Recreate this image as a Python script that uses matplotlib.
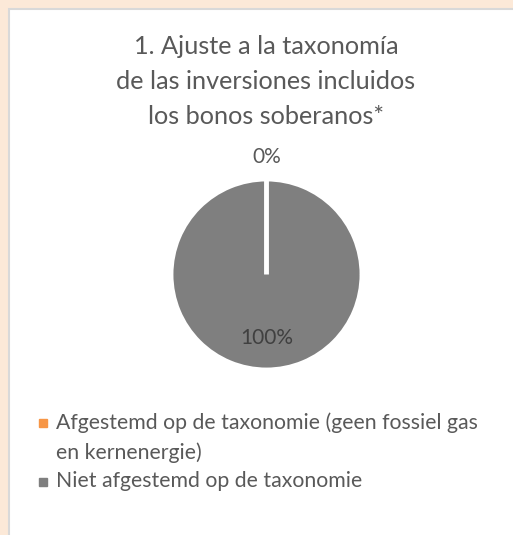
import matplotlib
matplotlib.use("Agg")
import matplotlib.pyplot as plt
from matplotlib.patches import Rectangle
from matplotlib.lines import Line2D
import numpy as np

title = "1. Ajuste a la taxonomía\nde las inversiones incluidos\nlos bonos soberanos*"
categories = ["Afgestemd op de taxonomie (geen fossiel gas\nen kernenergie)",
              "Niet afgestemd op de taxonomie"]
values = [0, 100]
colors = ["#F79646", "#7F7F7F"]
pct_labels = ["0%", "100%"]

W, H = 513, 535
fig = plt.figure(figsize=(W / 100, H / 100), dpi=100)
fig.patch.set_facecolor("#FCE9D8")
plt.rcParams['font.family'] = ['Lato', 'DejaVu Sans']

# white panel
fig.patches.append(Rectangle((9 / W, -0.01), 1 - 9 / W + 0.01, 1 - 9 / H + 0.01,
                             transform=fig.transFigure, facecolor="white",
                             edgecolor="#D9D9D9", linewidth=1.5, zorder=-5))

txtc = "#595959"
fig.text(266 / W, 1 - 35 / H, title, ha="center", va="top", fontsize=18.2,
         color=txtc, linespacing=1.63)

r_px = 95.5
cx, cy = 266.5, 274.5
ax = fig.add_axes([(cx - r_px) / W, 1 - (cy + r_px) / H, 2 * r_px / W, 2 * r_px / H])
ax.set_zorder(2)
wedges, _ = ax.pie(values, colors=colors, startangle=90, counterclock=False,
                   radius=1.0, wedgeprops=dict(edgecolor="white", linewidth=3.5),
                   normalize=True)
# the empty slice's white border is drawn on top of the full slice
wedges[0].set_zorder(5)
ax.set_xlim(-1, 1)
ax.set_ylim(-1, 1)
ax.set_aspect("auto")
ax.axis("off")

dists = [1.23, 0.66]
for w, lab, d in zip(wedges, pct_labels, dists):
    ang = np.deg2rad((w.theta1 + w.theta2) / 2)
    ax.text(d * np.cos(ang), d * np.sin(ang), lab, ha="center", va="center",
            fontsize=15, color=txtc if lab != "100%" else "#404040", clip_on=False,
            zorder=6)

# legend (manual so the marker sits on the first line of a wrapped label)
leg_y = [423, 482]
for c, lab, y in zip(colors, categories, leg_y):
    fig.add_artist(Line2D([43 / W], [1 - y / H], transform=fig.transFigure,
                          marker="s", linestyle="none", markersize=5.5,
                          markerfacecolor=c, markeredgecolor=c))
    fig.text(56 / W, 1 - (y - 11) / H, lab, ha="left", va="top", fontsize=15.3,
             color=txtc, linespacing=1.6)

fig.savefig("out.png", dpi=100, facecolor=fig.get_facecolor())
